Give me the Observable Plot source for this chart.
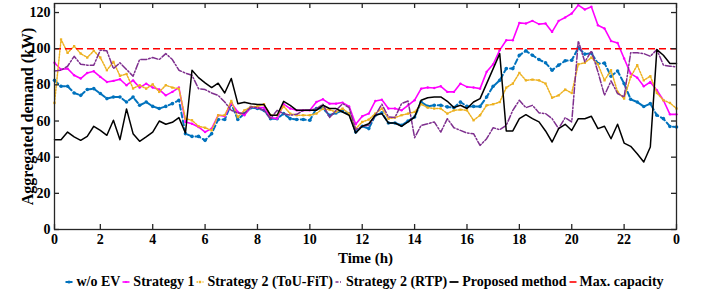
<!DOCTYPE html>
<html>
<head>
<meta charset="utf-8">
<script src="https://cdn.jsdelivr.net/npm/d3@7"></script>
<script src="https://cdn.jsdelivr.net/npm/@observablehq/plot@0.6"></script>
<style>
  html, body { margin: 0; padding: 0; background: #fff; }
  #chart { width: 702px; }
  .legend { display: flex; justify-content: center; align-items: center; height: 27px; width: 702px;
    font-family: "Liberation Serif", "Times New Roman", Times, "DejaVu Serif", serif; font-weight: bold; font-size: 14px; color: #000; padding-left: 29px; box-sizing: border-box; }
  .legend .item { display: flex; align-items: center; margin-right: 2px; white-space: nowrap; }
  .legend svg { margin-right: 3px; }
</style>
</head>
<body>
<div id="chart"></div>
<div class="legend" id="legend"></div>
<script>
// ---- data (15-min resolution, 96 points) ----
const woEV = [82.5,79.2,79.2,75.5,74.2,77.4,77.9,75.2,72.4,73.3,73.3,70.5,73.3,68.7,70.5,68.1,66.9,68.1,69.6,71.5,
  53.0,51.5,51.5,49.3,53.0,60.8,60.8,69.6,60.8,64.1,67.4,66.9,65.9,61.3,61.3,64.1,61.3,60.8,60.8,60.4,
  66.9,66.9,63.2,64.5,65.6,64.1,53.9,57.1,55.8,63.2,64.5,58.9,58.9,57.6,60.0,62.2,70.5,68.1,68.7,68.7,
  67.8,67.4,70.5,68.1,68.1,68.1,73.3,79.2,82.5,89.0,89.0,96.4,98.8,96.4,94.0,92.2,88.1,90.9,93.3,93.6,
  100.5,97.0,97.5,91.8,92.0,84.8,87.7,80.7,72.0,70.5,68.0,69.6,63.2,61.3,57.0,56.7];
const strategy1 = [92.2,88.5,89.0,85.3,83.5,86.6,87.5,84.4,81.6,82.2,83.1,79.8,82.5,78.5,80.7,78.5,77.4,74.2,76.1,78.5,
  59.5,58.5,56.7,53.9,55.8,63.2,62.6,70.0,65.0,63.2,67.8,67.4,67.4,61.9,61.3,69.3,66.9,65.9,65.9,65.9,
  70.5,72.0,69.6,69.6,70.2,68.1,58.2,62.6,64.1,71.1,71.8,66.9,66.9,65.9,68.7,71.5,77.9,78.5,78.3,79.2,
  76.1,76.1,80.7,78.9,78.5,77.9,87.2,91.4,99.2,104.7,104.7,114.3,113.9,115.4,113.6,113.9,109.3,115.4,117.3,119.5,
  124.1,121.7,123.2,113.0,111.2,104.3,103.2,94.6,86.2,84.0,79.2,81.6,77.0,71.5,63.7,63.7];
const touFit = [70.0,105.1,97.7,101.4,97.3,95.1,98.8,95.1,88.1,92.7,85.0,86.0,78.0,79.8,77.9,80.3,76.1,79.8,78.5,77.9,
  61.3,60.4,57.1,56.3,54.8,63.2,63.2,71.1,62.2,65.9,67.8,68.1,69.3,63.2,63.2,68.1,64.1,63.2,63.2,63.2,
  64.1,66.9,66.3,65.0,66.9,64.1,55.8,59.5,60.8,64.1,66.9,61.3,61.9,63.2,64.1,65.0,69.3,67.4,66.9,66.9,
  64.1,65.9,66.3,65.9,60.4,63.2,68.7,69.3,70.5,78.5,80.7,86.6,82.5,82.9,82.5,80.7,72.9,74.2,77.4,75.5,
  91.4,92.2,95.1,91.4,82.5,88.1,76.1,72.4,84.4,90.9,82.5,84.8,75.5,71.5,70.0,66.9];
const rtp = [87.7,88.1,90.3,95.8,91.4,90.9,90.9,99.2,98.8,89.0,92.2,88.5,84.8,94.0,94.0,95.1,94.0,97.3,94.0,88.1,
  86.5,85.3,77.9,77.4,75.5,74.2,70.5,65.9,64.5,64.1,67.8,67.4,65.9,61.3,65.9,64.1,63.2,63.7,65.9,65.9,
  66.9,69.3,61.9,65.9,69.6,67.4,55.2,57.1,57.6,63.2,69.3,62.2,61.9,69.6,71.1,50.8,57.6,58.5,59.5,53.9,
  61.3,56.3,54.8,53.4,53.0,46.5,50.2,56.3,55.2,57.6,65.9,71.5,67.4,68.7,64.5,64.1,61.3,55.8,61.9,59.5,
  104.3,92.7,98.8,87.2,74.2,82.2,75.2,73.3,97.7,97.7,97.3,95.8,99.5,90.9,90.3,90.0];
const proposed = [49.7,49.7,53.9,51.2,49.3,51.5,57.1,54.8,52.1,60.4,49.7,66.7,53.0,48.8,51.2,53.9,60.0,58.2,59.3,61.9,
  53.4,88.1,84.0,81.1,78.5,80.9,75.5,83.5,69.6,70.4,69.6,69.1,69.1,63.2,63.2,70.9,68.7,65.9,65.9,65.9,
  65.9,68.7,66.9,66.9,65.0,63.2,53.4,57.1,58.5,63.2,64.1,58.9,58.9,57.1,59.5,62.2,71.5,72.9,73.3,73.3,
  70.9,67.4,68.7,66.9,70.5,72.4,80.7,89.0,97.3,54.5,54.5,61.3,63.5,61.3,59.5,54.5,48.4,55.8,58.2,54.8,
  61.3,61.3,62.6,55.8,57.1,50.2,58.2,47.8,46.0,41.9,37.3,45.6,99.5,96.4,91.8,91.8];
const maxCapacity = [100];
const xTickIdx = [1,8,16,24,32,40,48,56,64,72,80,88,96];
const xTickLabels = ["0","2","4","6","8","10","12","14","16","18","20","22","0"];
const yTicks = [0,20,40,60,80,100,120];
const seriesNames = ["w/o EV","Strategy 1","Strategy 2 (ToU-FiT)","Strategy 2 (RTP)","Proposed method","Max. capacity"];
const xLabel = "Time (h)";
const yLabel = "Aggregated demand (kW)";

// ---- layout ----
const W = 702, H = 268;
const mL = 54, mR = 26, mT = 3, mB = 39;
const innerW = W - mL - mR, innerH = H - mT - mB;
const tickLen = 5;
const axisColor = "#262626";
const serif = "'Liberation Serif', 'Times New Roman', Times, 'DejaVu Serif', serif";

const X = (d, i) => i + 1;
const Y = d => d;

const plot = Plot.plot({
  width: W, height: H,
  marginLeft: mL, marginRight: mR, marginTop: mT, marginBottom: mB,
  x: {domain: [1, 96]},
  y: {domain: [0, 125]},
  style: {fontFamily: serif, fontSize: "14px", fontWeight: "bold", color: "#000", background: "#fff"},
  marks: [
    // series
    Plot.line(woEV, {x: X, y: Y, stroke: "#0072BD", strokeWidth: 2, strokeDasharray: "5,3"}),
    Plot.dot(woEV, {x: X, y: Y, r: 1.8, fill: "#0072BD"}),
    Plot.line(strategy1, {x: X, y: Y, stroke: "#FF00FF", strokeWidth: 1.6}),
    Plot.dot(strategy1, {x: X, y: Y, r: 1.2, fill: "#FF00FF"}),
    Plot.line(touFit, {x: X, y: Y, stroke: "#EDB120", strokeWidth: 1.5, strokeDasharray: "1.5,1.5"}),
    Plot.dot(touFit, {x: X, y: Y, r: 1.3, symbol: "square", fill: "#EDB120"}),
    Plot.line(rtp, {x: X, y: Y, stroke: "#7E2F8E", strokeWidth: 1.5, strokeDasharray: "6,2,1.5,2"}),
    Plot.line(proposed, {x: X, y: Y, stroke: "#000", strokeWidth: 1.5}),
    Plot.ruleY(maxCapacity, {y: d => d, stroke: "#FF0000", strokeWidth: 1.5, strokeDasharray: "7,4"}),
    // frame & inward ticks
    Plot.frame({stroke: axisColor, strokeWidth: 1.3}),
    Plot.tickX(xTickIdx, {x: d => d, stroke: axisColor, strokeWidth: 1.3, insetTop: innerH - tickLen}),
    Plot.tickX(xTickIdx, {x: d => d, stroke: axisColor, strokeWidth: 1.3, insetBottom: innerH - tickLen}),
    Plot.tickY(yTicks, {y: d => d, stroke: axisColor, strokeWidth: 1.3, insetRight: innerW - tickLen}),
    Plot.tickY(yTicks, {y: d => d, stroke: axisColor, strokeWidth: 1.3, insetLeft: innerW - tickLen}),
    Plot.axisX(xTickIdx, {tickSize: 0, tickPadding: 5, tickFormat: d => xTickLabels[xTickIdx.indexOf(d)], label: null, fill: "#000", fontSize: 14}),
    Plot.axisY(yTicks, {tickSize: 0, tickPadding: 4, label: null, fill: "#000", fontSize: 14}),
    Plot.axisY([], {tickSize: 0, label: yLabel, labelAnchor: "center", labelOffset: 33, labelArrow: false, fill: "#000", fontSize: 16}),
    Plot.text([xLabel], {text: d => d, frameAnchor: "bottom", lineAnchor: "middle", dy: 29, fontSize: 15, fontWeight: "bold", fill: "#000"})
  ]
});
document.getElementById("chart").appendChild(plot);

// ---- legend ----
const legendStyles = [
  {stroke: "#0072BD", dash: "3,1.5", w: 2, marker: "circle"},
  {stroke: "#FF00FF", dash: null, w: 1.6, marker: "dot"},
  {stroke: "#EDB120", dash: "1.5,1.5", w: 1.5, marker: "square"},
  {stroke: "#7E2F8E", dash: "3,1.5,1,1.5", w: 1.3, marker: null},
  {stroke: "#000", dash: null, w: 1.8, marker: null},
  {stroke: "#FF0000", dash: null, w: 1.6, marker: null}
];
const legend = document.getElementById("legend");
seriesNames.forEach((name, k) => {
  const s = legendStyles[k];
  const item = document.createElement("div");
  item.className = "item";
  const sw = k === 4 ? 10 : 8;
  let svg = `<svg width="${sw}" height="8" viewBox="0 0 ${sw} 8"><line x1="0.5" y1="4" x2="${sw - 0.5}" y2="4" stroke="${s.stroke}" stroke-width="${s.w}"${s.dash ? ` stroke-dasharray="${s.dash}"` : ""}/>`;
  if (s.marker === "circle") svg += `<circle cx="${sw / 2}" cy="4" r="1.6" fill="${s.stroke}"/>`;
  if (s.marker === "dot") svg += `<circle cx="${sw / 2}" cy="4" r="1.1" fill="${s.stroke}"/>`;
  if (s.marker === "square") svg += `<rect x="${sw / 2 - 1.2}" y="2.8" width="2.4" height="2.4" fill="${s.stroke}"/>`;
  svg += `</svg>`;
  item.innerHTML = svg + `<span>${name}</span>`;
  legend.appendChild(item);
});
</script>
</body>
</html>
